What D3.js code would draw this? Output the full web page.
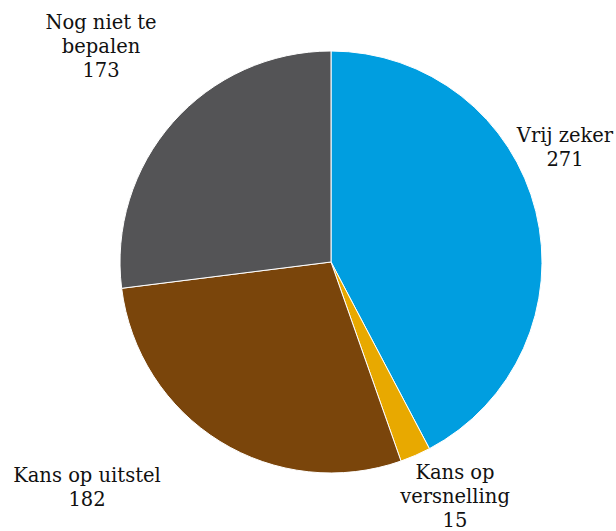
<!DOCTYPE html>
<html lang="nl">
<head>
  <meta charset="UTF-8">
  <title>Taart</title>
  <script src="https://d3js.org/d3.v7.min.js"></script>
  <style>
    body { margin: 0; background: #fff; }
    text { font-family: "DejaVu Serif", serif; font-size: 19.5px; fill: #111; }
  </style>
</head>
<body>
  <div id="chart"></div>
  <script>
    const categories = ["Vrij zeker", "Kans op versnelling", "Kans op uitstel", "Nog niet te bepalen"];
    const values = [271, 15, 182, 173];
    const labelLines = [["Vrij zeker", "271"], ["Kans op", "versnelling", "15"], ["Kans op uitstel", "182"], ["Nog niet te", "bepalen", "173"]];
    const colors = ["#009ee0", "#e8a900", "#7a450b", "#545456"];

    const width = 616, height = 531;
    const cx = 331, cy = 262, radius = 211;
    // label anchor (first baseline), set by hand to follow the reference
    const labelPos = [[565, 142], [455, 479], [87, 482], [101, 29]];
    const lineGap = 24;

    const svg = d3.select("#chart").append("svg")
      .attr("width", width)
      .attr("height", height);

    const pie = d3.pie().sort(null).value(d => d)(values);
    const arc = d3.arc().innerRadius(0).outerRadius(radius);

    const g = svg.append("g").attr("transform", `translate(${cx},${cy})`);
    g.selectAll("path")
      .data(pie)
      .join("path")
      .attr("d", arc)
      .attr("fill", (d, i) => colors[i])
      .attr("stroke", "#fff")
      .attr("stroke-width", 1);

    const labels = svg.append("g").selectAll("text")
      .data(categories)
      .join("text")
      .attr("text-anchor", "middle")
      .attr("x", (d, i) => labelPos[i][0])
      .attr("y", (d, i) => labelPos[i][1]);
    labels.each(function(d, i) {
      d3.select(this).selectAll("tspan")
        .data(labelLines[i])
        .join("tspan")
        .attr("x", labelPos[i][0])
        .attr("dy", (t, j) => j === 0 ? 0 : lineGap)
        .text(t => t);
    });
  </script>
</body>
</html>
